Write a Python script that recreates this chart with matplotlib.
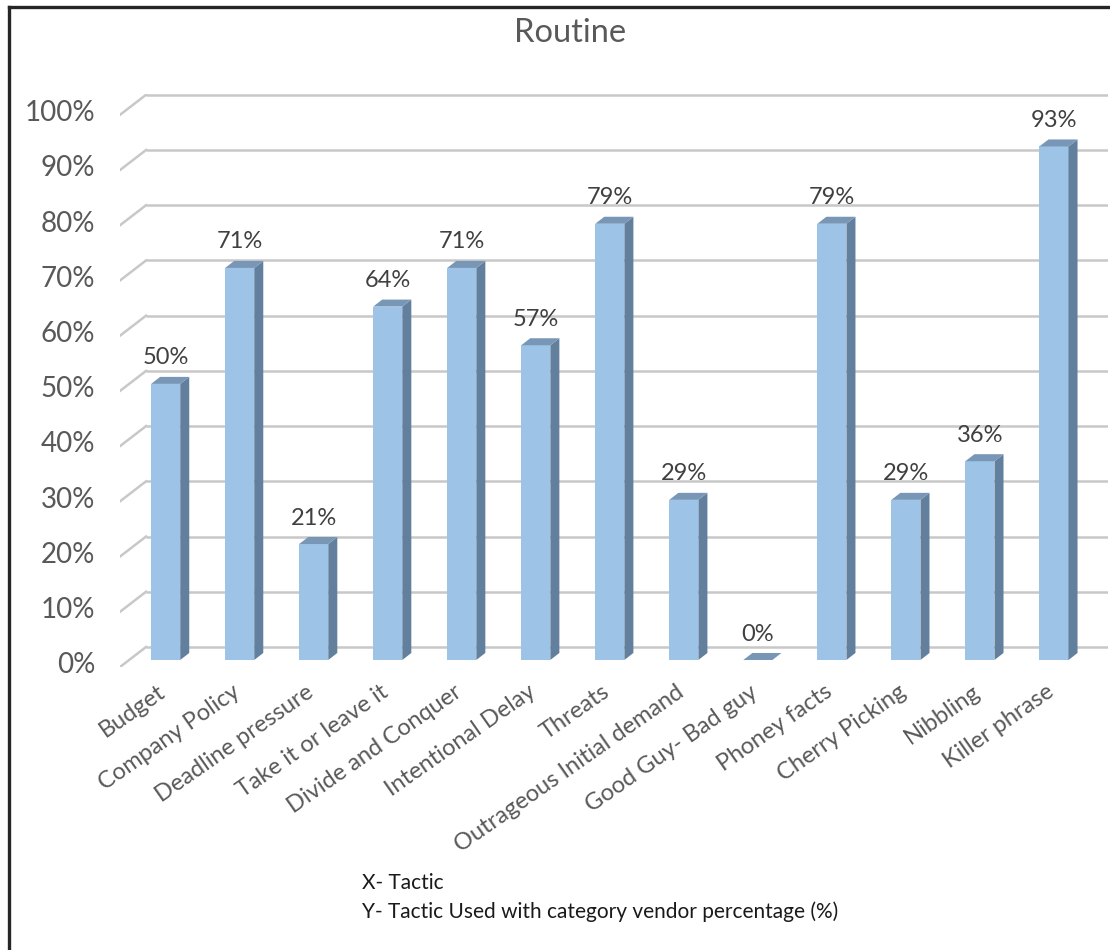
import matplotlib.pyplot as plt
from matplotlib.patches import Polygon, Rectangle

plt.rcParams['font.family'] = ['Lato', 'DejaVu Sans']

# dados do gráfico
tactics = ['Budget', 'Company Policy', 'Deadline pressure', 'Take it or leave it',
           'Divide and Conquer', 'Intentional Delay', 'Threats',
           'Outrageous Initial demand', 'Good Guy- Bad guy', 'Phoney facts',
           'Cherry Picking', 'Nibbling', 'Killer phrase']
routine_pct = [50, 71, 21, 64, 71, 57, 79, 29, 0, 79, 29, 36, 93]
y_ticks = [0, 10, 20, 30, 40, 50, 60, 70, 80, 90, 100]

# aparência 3D (unidades de dados)
BAR_W = 0.393
DEPTH_X = 0.122
DEPTH_Y = 1.27
WALL_X = 0.352
WALL_Y = 2.36
FLOOR_X = -0.617
FLOOR_Y = -1.27
X_FIM = 12.73

COR_FRENTE = '#9DC3E6'
COR_LADO = '#62809E'
COR_TOPO = '#7896B6'
COR_GRADE = '#C8C8C8'


def desenha_barra_3d(ax, x, h):
    esq, dir_ = x - BAR_W / 2, x + BAR_W / 2
    if h > 0:
        ax.add_patch(Rectangle((esq, 0), BAR_W, h, facecolor=COR_FRENTE,
                               edgecolor='none', zorder=3))
        ax.add_patch(Polygon([(dir_, 0), (dir_ + DEPTH_X, DEPTH_Y),
                              (dir_ + DEPTH_X, h + DEPTH_Y), (dir_, h)],
                             facecolor=COR_LADO, edgecolor='none', zorder=3))
    ax.add_patch(Polygon([(esq, h), (dir_, h), (dir_ + DEPTH_X, h + DEPTH_Y),
                          (esq + DEPTH_X, h + DEPTH_Y)],
                         facecolor=COR_TOPO, edgecolor='none', zorder=3))


fig = plt.figure(figsize=(11.1, 9.5), dpi=100)
W, H = 1110, 950
ax = fig.add_axes([120 / W, 1 - 667 / H, (1108 - 120) / W, (667 - 94) / H])
ax.set_xlim(FLOOR_X, X_FIM)
ax.set_ylim(FLOOR_Y, 102.5)
ax.axis('off')

# linhas de grade (parede do fundo + diagonal da frente)
for v in y_ticks:
    ax.plot([FLOOR_X + WALL_X, X_FIM], [v + WALL_Y, v + WALL_Y],
            color=COR_GRADE, lw=1.8, zorder=1, solid_capstyle='butt')
    ax.plot([FLOOR_X, FLOOR_X + WALL_X], [v + FLOOR_Y, v + WALL_Y],
            color=COR_GRADE, lw=1.8, zorder=1)
    ax.text(-0.95, v + FLOOR_Y + 0.3, f'{v}%', ha='right', va='center',
            fontsize=20, color='#595959', clip_on=False)

for i, v in enumerate(routine_pct):
    desenha_barra_3d(ax, i, v)
    ax.text(i, v + 4.7, f'{v}%', ha='center', va='center', fontsize=17,
            color='#404040', zorder=4)
    ax.text(i - 0.03, -5.4, tactics[i], rotation=35, rotation_mode='anchor',
            ha='right', va='center', fontsize=17, color='#595959',
            clip_on=False)

fig.text(570 / W, 1 - 33 / H, 'Routine', ha='center', va='center',
         fontsize=23.5, color='#595959')
fig.text(362 / W, 1 - 883 / H, 'X- Tactic', ha='left', va='center',
         fontsize=15, color='#1A1A1A')
fig.text(362 / W, 1 - 912 / H, 'Y- Tactic Used with category vendor percentage (%)',
         ha='left', va='center', fontsize=15, color='#1A1A1A')

# moldura (esquerda e topo)
fig.add_artist(plt.Line2D([8.5 / W, 8.5 / W], [0, 1 - 7 / H], color='#262626',
                          lw=2.4, transform=fig.transFigure))
fig.add_artist(plt.Line2D([8.5 / W, 1], [1 - 7 / H, 1 - 7 / H], color='#262626',
                          lw=2.4, transform=fig.transFigure))

fig.savefig('out.png', dpi=100, facecolor='white')
